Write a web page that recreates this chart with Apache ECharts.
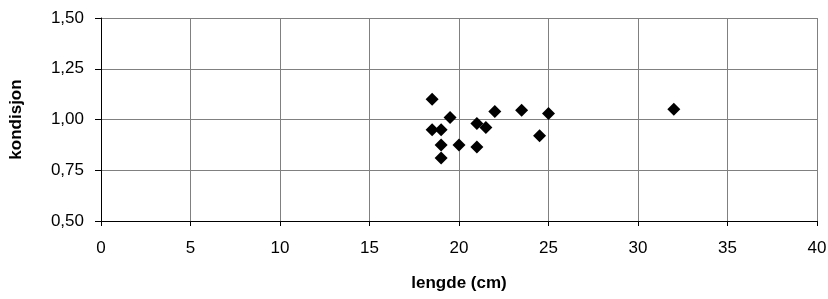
<!DOCTYPE html>
<html>
<head>
<meta charset="utf-8">
<script src="https://cdn.jsdelivr.net/npm/echarts@6/dist/echarts.min.js"></script>
<style>
html,body{margin:0;padding:0;background:#fff;}
#chart{width:828px;height:299px;}
</style>
</head>
<body>
<div id="chart"></div>
<script>
// Data
const lengde = [18.5, 19.5, 18.5, 19, 21, 21.5, 22, 23.5, 25, 24.5, 19, 20, 21, 19, 32];
const kondisjon = [1.10, 1.01, 0.95, 0.95, 0.98, 0.96, 1.04, 1.045, 1.03, 0.92, 0.875, 0.875, 0.865, 0.81, 1.05];
const xTicks = [0, 5, 10, 15, 20, 25, 30, 35, 40];
const yTicks = [0.50, 0.75, 1.00, 1.25, 1.50];
const xName = 'lengde (cm)';
const yName = 'kondisjon';

const points = lengde.map((x, i) => [x, kondisjon[i]]);
const font = '"Liberation Sans", Arial, sans-serif';

const chart = echarts.init(document.getElementById('chart'), null, {renderer: 'canvas'});
chart.setOption({
  animation: false,
  backgroundColor: '#ffffff',
  grid: {left: 101, right: 11, top: 18, bottom: 78, containLabel: false, outerBoundsMode: 'none'},
  xAxis: {
    type: 'value',
    min: xTicks[0], max: xTicks[xTicks.length - 1], interval: 5,
    name: xName, nameLocation: 'middle', nameGap: 54,
    nameTextStyle: {fontFamily: font, fontSize: 17, fontWeight: 'bold', color: '#000'},
    axisLine: {show: true, onZero: false, lineStyle: {color: '#000', width: 1}},
    axisTick: {show: true, length: 5, lineStyle: {color: '#000'}},
    axisLabel: {fontFamily: font, fontSize: 17, color: '#000', margin: 19},
    splitLine: {show: true, lineStyle: {color: '#808080', width: 1}}
  },
  yAxis: {
    type: 'value',
    min: yTicks[0], max: yTicks[yTicks.length - 1], interval: 0.25,
    name: yName, nameLocation: 'middle', nameGap: 76, nameRotate: 90,
    nameTextStyle: {fontFamily: font, fontSize: 17, fontWeight: 'bold', color: '#000'},
    axisLine: {show: true, lineStyle: {color: '#000', width: 1}},
    axisTick: {show: true, length: 6, lineStyle: {color: '#000'}},
    axisLabel: {fontFamily: font, fontSize: 17, color: '#000', margin: 17,
      formatter: v => v.toFixed(2).replace('.', ',')},
    splitLine: {show: true, lineStyle: {color: '#808080', width: 1}}
  },
  series: [{
    type: 'scatter',
    data: points,
    symbol: 'diamond',
    symbolSize: 13,
    itemStyle: {color: '#000', opacity: 1}
  }]
});
</script>
</body>
</html>
